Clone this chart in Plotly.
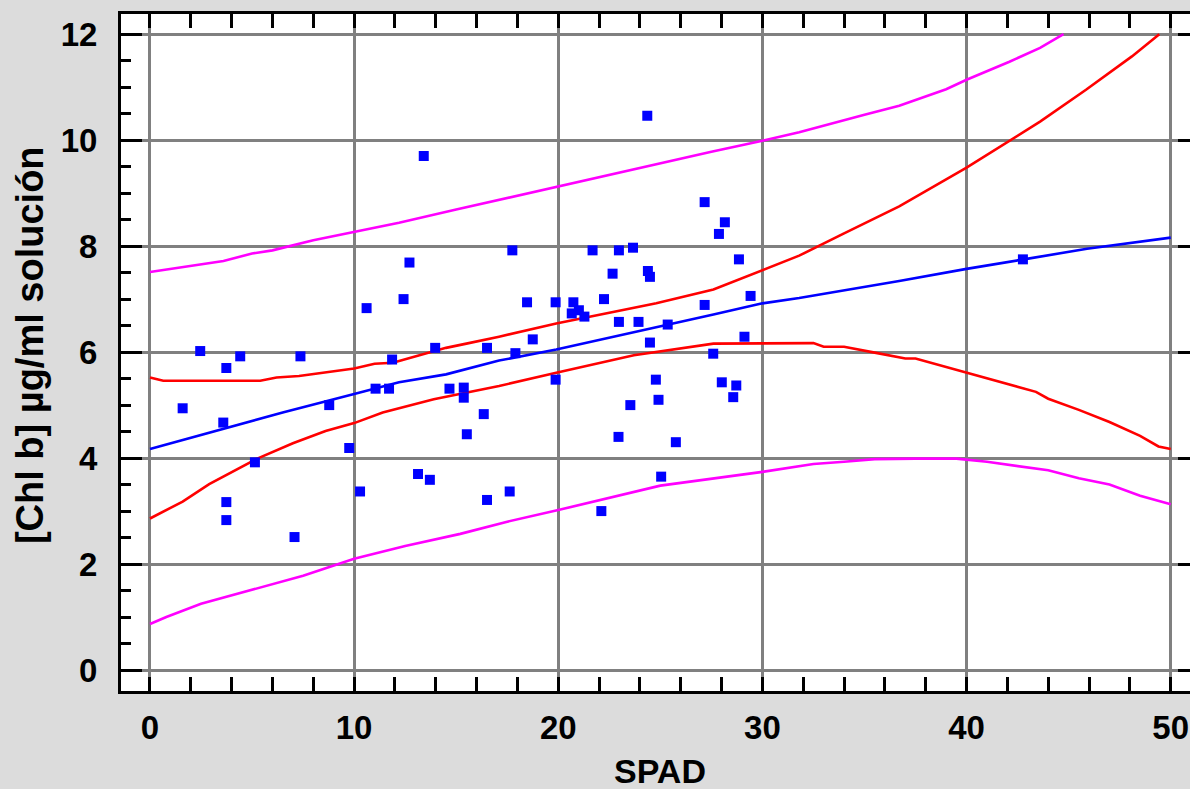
import plotly.graph_objects as go

# ---- observed data (SPAD vs [Chl b]) ----
spad = [1.60, 2.46, 3.74, 4.42, 3.59, 3.74, 3.74, 5.14, 7.08, 7.37, 8.78, 9.76, 10.29, 10.61,
        11.05, 11.71, 11.86, 12.42, 12.71, 13.13, 13.41, 13.71, 13.97, 14.67, 15.37, 15.37,
        15.52, 16.35, 16.51, 16.51, 17.62, 17.75, 17.90, 18.47, 18.75, 19.87, 19.87, 20.66,
        20.74, 21.01, 21.28, 21.68, 22.11, 22.24, 22.66, 22.95, 22.97, 22.97, 23.53, 23.66,
        23.93, 24.36, 24.39, 24.49, 24.49, 24.78, 24.91, 25.04, 25.36, 25.76, 27.17, 27.17,
        27.59, 27.87, 28.01, 28.16, 28.57, 28.72, 28.85, 29.12, 29.42, 42.76]
chlb = [4.94, 6.02, 5.70, 5.92, 4.67, 3.17, 2.83, 3.92, 2.51, 5.92, 5.00, 4.19, 3.37, 6.83,
        5.31, 5.31, 5.86, 7.00, 7.69, 3.70, 9.70, 3.59, 6.08, 5.31, 5.33, 5.14,
        4.45, 4.83, 6.08, 3.21, 3.37, 7.92, 5.98, 6.94, 6.24, 6.94, 5.48, 6.73,
        6.94, 6.79, 6.67, 7.92, 3.00, 7.00, 7.48, 4.40, 7.92, 6.57, 5.00, 7.97,
        6.57, 10.46, 7.53, 7.42, 6.18, 5.48, 5.10, 3.65, 6.52, 4.30, 8.83, 6.89,
        5.97, 8.23, 5.43, 8.45, 5.15, 5.37, 7.75, 6.29, 7.06, 7.75]

# ---- fitted model ----
fit_x = [0, 3.6, 6.5, 10, 12.2, 14.5, 17.1, 19.9, 23.7, 27.6, 30, 31.8, 36.7, 40, 42.8, 45.9, 50]
fit_y = [4.17, 4.55, 4.86, 5.21, 5.43, 5.58, 5.84, 6.05, 6.37, 6.71, 6.92, 7.02, 7.34, 7.57, 7.75, 7.95, 8.16]

# ---- confidence limits (red) ----
conf_up_x = [0, 0.65, 5.4, 6.2, 7.3, 9, 10, 11, 11.9, 13.2, 14.5, 15.5, 17.1, 19.9, 22, 24.8,
             27.6, 30, 31.8, 34, 36.7, 40, 42.1, 43.6, 45.85, 48.1, 49.44]
conf_up_y = [5.52, 5.46, 5.46, 5.52, 5.55, 5.63, 5.69, 5.78, 5.80, 5.94, 6.08, 6.16, 6.29, 6.54,
             6.70, 6.92, 7.18, 7.55, 7.82, 8.24, 8.75, 9.48, 9.98, 10.35, 10.95, 11.58, 12.0]
conf_lo_x = [0, 1.6, 2.9, 4.6, 5.2, 7, 8.6, 10, 11.4, 13.9, 17.1, 19.9, 23.7, 27.6, 31.3, 32.5,
             33, 34, 35.5, 37, 37.5, 40, 41.1, 43.4, 44, 45.5, 47, 48.5, 49.4, 50]
conf_lo_y = [2.86, 3.18, 3.51, 3.85, 3.98, 4.28, 4.51, 4.66, 4.86, 5.11, 5.36, 5.61, 5.94, 6.16,
             6.17, 6.17, 6.10, 6.10, 5.99, 5.88, 5.88, 5.61, 5.50, 5.25, 5.12, 4.91, 4.68, 4.42,
             4.22, 4.17]

# ---- prediction limits (magenta) ----
pred_up_x = [0, 1, 2, 3.6, 5, 6, 8, 10, 12.2, 15, 17.5, 19.9, 23.7, 27.5, 30, 31.8, 35, 36.7,
             39, 40, 42.1, 43.6, 44.75]
pred_up_y = [7.51, 7.57, 7.62, 7.72, 7.86, 7.92, 8.11, 8.27, 8.44, 8.69, 8.91, 9.12, 9.46, 9.78,
             9.99, 10.15, 10.48, 10.65, 10.96, 11.14, 11.48, 11.74, 12.0]
pred_lo_x = [0, 0.8, 2.5, 5, 7.5, 10, 12.5, 15.2, 17.5, 20, 25, 30, 31.3, 32.5, 34, 35.5, 37.5,
             39.5, 41, 42.4, 44, 45.5, 47, 48.5, 50]
pred_lo_y = [0.87, 1.0, 1.25, 1.52, 1.78, 2.10, 2.34, 2.57, 2.80, 3.02, 3.48, 3.74, 3.82, 3.89,
             3.93, 3.98, 3.99, 3.99, 3.93, 3.85, 3.77, 3.62, 3.50, 3.29, 3.13]

x_title = "SPAD"
y_title = "[Chl b] µg/ml solución"

FONT = "Liberation Sans, Arial, sans-serif"
BG = "#dcdcdc"

fig = go.Figure()
line_w = 2.6
fig.add_trace(go.Scatter(x=pred_up_x, y=pred_up_y, mode="lines",
                         line=dict(color="#ff00ff", width=line_w), showlegend=False))
fig.add_trace(go.Scatter(x=pred_lo_x, y=pred_lo_y, mode="lines",
                         line=dict(color="#ff00ff", width=line_w), showlegend=False))
fig.add_trace(go.Scatter(x=conf_up_x, y=conf_up_y, mode="lines",
                         line=dict(color="#ff0000", width=line_w), showlegend=False))
fig.add_trace(go.Scatter(x=conf_lo_x, y=conf_lo_y, mode="lines",
                         line=dict(color="#ff0000", width=line_w), showlegend=False))
fig.add_trace(go.Scatter(x=fit_x, y=fit_y, mode="lines",
                         line=dict(color="#0000ff", width=line_w), showlegend=False))
fig.add_trace(go.Scatter(x=spad, y=chlb, mode="markers",
                         marker=dict(symbol="square", size=10, color="#0000ff",
                                     line=dict(width=0)), showlegend=False))
# invisible trace to activate right-side tick axis
fig.add_trace(go.Scatter(x=[None], y=[None], yaxis="y2", showlegend=False, hoverinfo="skip"))

tickfont = dict(family=FONT, size=33, color="black", weight="bold")

fig.update_layout(
    width=1190, height=789,
    paper_bgcolor=BG, plot_bgcolor="white",
    margin=dict(l=121, r=0, t=14, b=98),
    xaxis=dict(range=[-1.42, 50.945], tick0=0, dtick=10, ticks="inside", ticklen=14,
               tickwidth=3, tickcolor="black", showline=True, linewidth=3, linecolor="black",
               mirror="allticks", showgrid=True, gridcolor="#808080", gridwidth=3,
               zeroline=False, tickfont=tickfont, ticklabelstandoff=5,
               minor=dict(dtick=2, ticks="inside", ticklen=7, tickwidth=3, tickcolor="black",
                          showgrid=False)),
    yaxis=dict(range=[-0.395, 12.38], tick0=0, dtick=2, ticks="inside", ticklen=21,
               tickwidth=3, tickcolor="black", showline=True, linewidth=3, linecolor="black",
               mirror=False, showgrid=True, gridcolor="#808080", gridwidth=3,
               zeroline=True, zerolinecolor="#808080", zerolinewidth=3,
               tickfont=tickfont, ticklabelstandoff=14,
               minor=dict(dtick=0.5, ticks="inside", ticklen=10, tickwidth=3, tickcolor="black",
                          showgrid=False)),
    yaxis2=dict(range=[-0.395, 12.38], overlaying="y", side="right", tick0=0, dtick=2,
                ticks="inside", ticklen=12, tickwidth=3, tickcolor="black",
                showticklabels=False, showgrid=False, zeroline=False, showline=False),
    annotations=[
        dict(text=x_title, xref="paper", yref="paper", x=0.504, y=-0.118,
             xanchor="center", yanchor="middle", showarrow=False,
             font=dict(family=FONT, size=34, color="black", weight="bold")),
        dict(text=y_title, xref="paper", yref="paper", x=-0.0851, y=0.511,
             xanchor="center", yanchor="middle", showarrow=False, textangle=-90,
             font=dict(family=FONT, size=38, color="black", weight="bold")),
    ],
)

fig.write_html(
    "out.html",
    config={"displayModeBar": False},
    post_script="document.body.style.margin='0px';document.body.style.overflow='hidden';"
                "document.body.style.background='" + BG + "';",
)
